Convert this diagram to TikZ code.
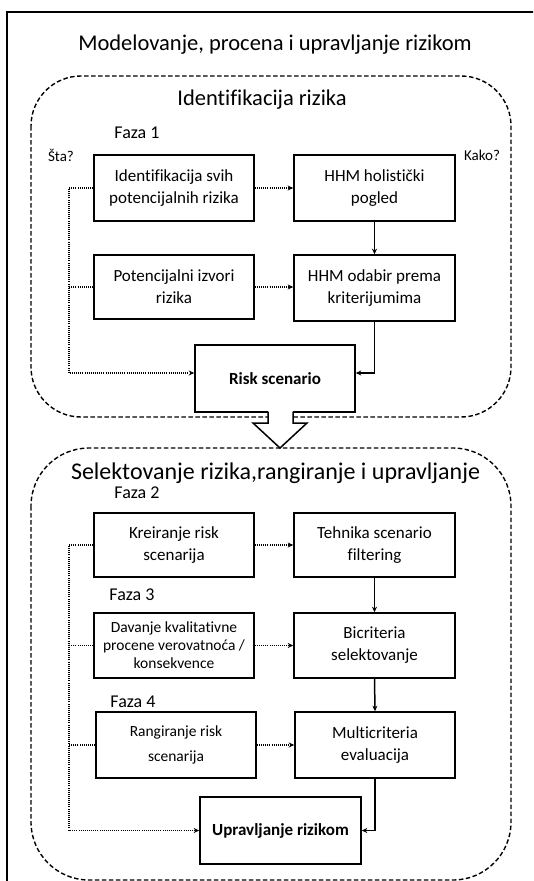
\documentclass[tikz,border=0pt]{standalone}
\usepackage{fontspec}
\setmainfont{Carlito}[Ligatures=NoCommon]
\usetikzlibrary{arrows.meta,calc}

\tikzset{
  box/.style={draw, line width=1.6pt, fill=white, align=center, inner sep=2pt,
              font=\fontsize{17}{22}\selectfont},
  smallbox/.style={box, font=\fontsize{15.5}{18}\selectfont},
  dashbox/.style={line width=1.4pt, dash pattern=on 4.5pt off 2.5pt},
  dotline/.style={line width=1.3pt, dash pattern=on 1pt off 1.1pt},
  solidline/.style={line width=1.5pt},
  tip/.style={-{Stealth[length=5.5pt,width=5pt]}},
  heading/.style={inner sep=0pt, font=\fontsize{22.5}{26}\selectfont},
  phase/.style={inner sep=0pt, font=\fontsize{18}{20}\selectfont},
  ask/.style={inner sep=0pt, font=\fontsize{15}{17}\selectfont},
  blockarrow/.style={line width=1.5pt, line join=miter}
}

\begin{document}
\begin{tikzpicture}[x=1pt, y=-1pt]
\useasboundingbox (0,0) rectangle (533,881);
\clip (0,0) rectangle (533,881);

% outer frame
\draw[line width=1.6pt] (7,890) -- (7,12) -- (545,12);
\node[heading] (title) at (275,45) {Modelovanje, procena i upravljanje rizikom};

% ---------- stage one ----------
\draw[dashbox, rounded corners=50pt] (31,76) rectangle (511,417);
\node[heading] (h1) at (262,100) {Identifikacija rizika};
\node[phase] (f1) at (137,133) {Faza 1};
\node[ask] (sta) at (61,155) {Šta?};
\node[ask] (kako) at (482,155) {Kako?};

\node[box, minimum width=160pt, minimum height=66pt] (b1) at (174,188)
  {Identifikacija svih\\potencijalnih rizika};
\node[box, minimum width=161pt, minimum height=66pt] (b2) at (374.5,188)
  {HHM holistički\\pogled};
\node[box, minimum width=160pt, minimum height=64pt] (b3) at (174,287)
  {Potencijalni izvori\\rizika};
\node[box, minimum width=161pt, minimum height=66pt] (b4) at (374.5,288)
  {HHM odabir prema\\kriterijumima};
\node[box, minimum width=160pt, minimum height=67pt,
      font=\fontsize{17}{22}\selectfont\bfseries] (rs) at (275,378.5) {Risk scenario};

\coordinate (lx) at (69,0);

\draw[dotline, tip] (b1.west) -- (b1.west -| lx) |- ([yshift=5.5pt]rs.west);
\draw[dotline] (b3.west) -- (b3.west -| lx);
\draw[dotline, tip] (b1.east) -- (b2.west);
\draw[dotline, tip] (b3.east) -- (b3.east -| b4.west);
\draw[solidline, tip] (b2.south) -- (b4.north);
\draw[solidline, tip] (b4.south) |- ([yshift=5.5pt]rs.east);

% ---------- stage two ----------
\draw[dashbox, rounded corners=58pt] (31,448) rectangle (511,880);
\node[heading, font=\fontsize{24}{28}\selectfont] (h2) at (275.5,473)
  {Selektovanje rizika,rangiranje i upravljanje};
\node[phase] (f2) at (137,493) {Faza 2};
\node[phase] (f3) at (132,595) {Faza 3};
\node[phase] (f4) at (133,702) {Faza 4};

\node[box, minimum width=160pt, minimum height=64pt] (b5) at (174,545)
  {Kreiranje risk\\scenarija};
\node[box, minimum width=161pt, minimum height=64pt] (b6) at (374.5,545)
  {Tehnika scenario\\filtering};
\node[smallbox, minimum width=160pt, minimum height=65pt] (b7) at (174,645.5)
  {Davanje kvalitativne\\procene verovatnoća /\\konsekvence};
\node[box, minimum width=161pt, minimum height=65pt] (b8) at (374.5,645.5)
  {Bicriteria\\selektovanje};
\node[smallbox, minimum width=160pt, minimum height=66pt,
      font=\fontsize{15.5}{25}\selectfont] (b9) at (176,745)
  {Rangiranje risk\\scenarija};
\node[box, minimum width=160pt, minimum height=66pt] (b10) at (375,745)
  {Multicriteria\\evaluacija};
\node[box, minimum width=161pt, minimum height=67pt,
      font=\fontsize{17}{22}\selectfont\bfseries] (up) at (280.5,830.5) {Upravljanje rizikom};

\draw[dotline, tip] (b5.west) -- (b5.west -| lx) |- (up.west);
\draw[dotline] (b7.west) -- (b7.west -| lx);
\draw[dotline] (b9.west) -- (b9.west -| lx);
\draw[dotline, tip] (b5.east) -- (b6.west);
\draw[dotline, tip] (b7.east) -- (b8.west);
\draw[dotline, tip] (b9.east) -- (b10.west);
\draw[solidline, tip] (b6.south) -- (b8.north);
\draw[solidline, tip] (b8.south) -- (b10.north);
\draw[solidline, tip] (b10.south) |- (up.east);

% hollow block arrow joining the two stages
\fill[white] (268,411) -- (268,423) -- (253,423) -- (280,448) -- (307,423)
  -- (293,423) -- (293,411) -- cycle;
\draw[blockarrow] (268,411.5) -- (268,423) -- (253,423) -- (280,448) -- (307,423)
  -- (293,423) -- (293,411.5);
\end{tikzpicture}
\end{document}
